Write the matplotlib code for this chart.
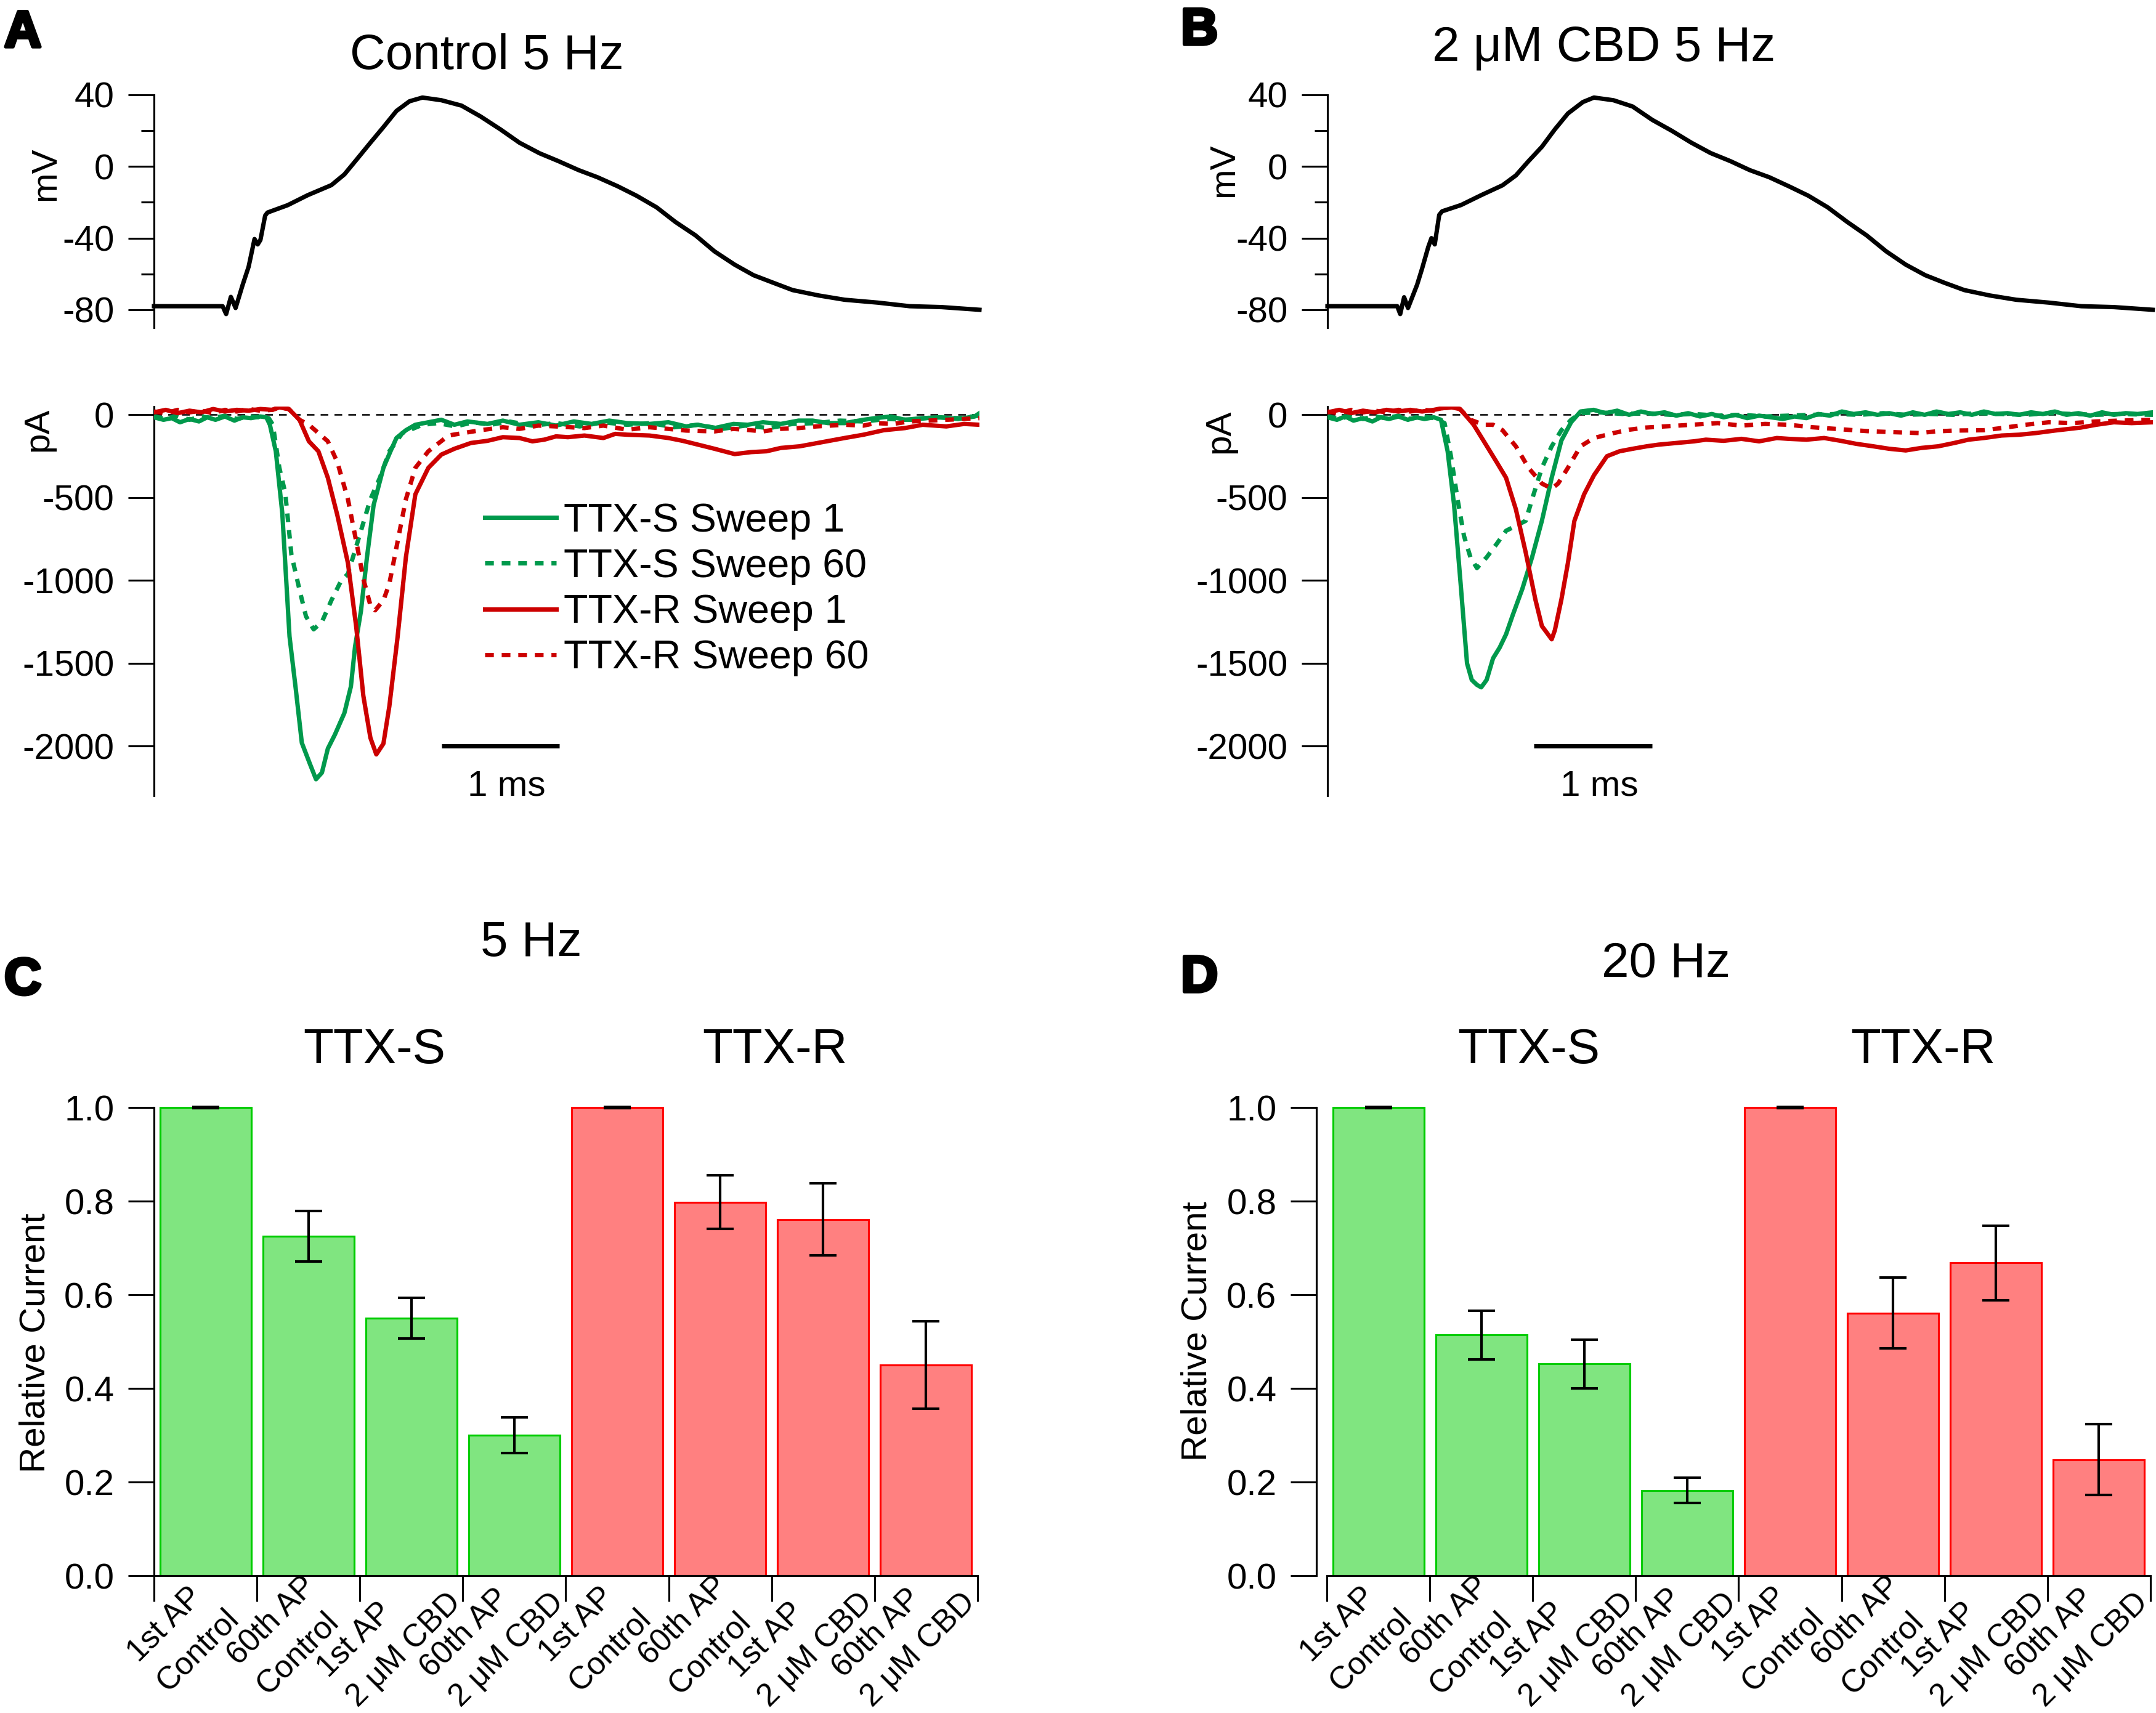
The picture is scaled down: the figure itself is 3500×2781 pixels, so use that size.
import matplotlib
matplotlib.use("Agg")
import matplotlib.pyplot as plt
import matplotlib.patheffects as pe
from matplotlib.transforms import ScaledTranslation

plt.rcParams['font.family'] = ['Liberation Sans', 'DejaVu Sans']
plt.rcParams['axes.unicode_minus'] = False
plt.rcParams['axes.linewidth'] = 0.75

# ---------------- data ----------------
# membrane voltage traces (time ms, mV)
A_V = [(0, -78), (0.30, -78), (0.58, -78), (0.61, -82.4), (0.65, -72.8), (0.69, -79), (0.75, -66),
       (0.80, -56), (0.85, -40.5), (0.877, -43.5), (0.90, -41), (0.94, -27.4), (0.96, -25.7),
       (1.13, -21.6), (1.30, -16), (1.50, -10.4), (1.61, -4.4), (1.72, 4.4), (1.83, 13.3), (1.94, 22),
       (2.05, 31), (2.16, 36.4), (2.27, 38.5), (2.43, 37), (2.60, 34), (2.76, 28), (2.93, 20.7),
       (3.09, 13.3), (3.26, 7.4), (3.42, 3), (3.59, -2), (3.75, -6), (3.92, -11), (4.08, -16.3),
       (4.25, -22.8), (4.41, -31), (4.58, -38.5), (4.74, -47.4), (4.91, -54.8), (5.07, -60.7),
       (5.24, -65), (5.40, -69), (5.62, -72), (5.84, -74.4), (6.12, -76), (6.39, -78), (6.66, -78.5),
       (6.98, -80)]
B_V = [(0, -78), (0.30, -78), (0.59, -78), (0.615, -82.4), (0.648, -73), (0.681, -79), (0.758, -66),
       (0.80, -57), (0.852, -45), (0.879, -40), (0.907, -43.5), (0.945, -27), (0.97, -25),
       (1.13, -21.5), (1.30, -16), (1.48, -10.5), (1.593, -5), (1.70, 3), (1.813, 11), (1.92, 20.5),
       (2.033, 29.6), (2.16, 36), (2.253, 38.5), (2.418, 37), (2.58, 33.5), (2.747, 26), (2.91, 20),
       (3.077, 13.3), (3.24, 7.5), (3.407, 3), (3.57, -2), (3.736, -6), (3.90, -11), (4.066, -16.3),
       (4.23, -22.8), (4.396, -31), (4.56, -38.5), (4.725, -47.4), (4.89, -54.8), (5.055, -60.7),
       (5.22, -65), (5.385, -69), (5.60, -72), (5.824, -74.4), (6.10, -76), (6.374, -78), (6.65, -78.5),
       (6.978, -80)]

# sodium current traces (time ms, pA)
A_S1 = [(0, -15), (0.08, -30), (0.15, -20), (0.22, -45), (0.30, -25), (0.38, -40), (0.45, -15), (0.52, -30),
        (0.60, -10), (0.68, -35), (0.75, -15), (0.82, -20), (0.90, -10), (0.95, -15), (0.98, -60),
        (1.03, -220), (1.085, -595), (1.146, -1338), (1.198, -1650), (1.25, -1980), (1.32, -2110),
        (1.37, -2200), (1.42, -2160), (1.47, -2015), (1.53, -1930), (1.61, -1800), (1.665, -1640),
        (1.70, -1400), (1.75, -1185), (1.80, -865), (1.857, -545), (1.94, -320), (2.00, -220),
        (2.05, -140), (2.13, -93), (2.21, -60), (2.32, -45), (2.43, -30), (2.54, -60), (2.65, -40),
        (2.82, -55), (2.95, -35), (3.09, -60), (3.25, -45), (3.40, -65), (3.55, -40), (3.70, -55),
        (3.85, -35), (4.00, -50), (4.19, -55), (4.35, -45), (4.50, -70), (4.60, -60), (4.74, -80),
        (4.90, -55), (5.02, -60), (5.15, -45), (5.30, -55), (5.45, -35), (5.57, -35), (5.70, -50),
        (5.84, -50), (6.00, -30), (6.10, -20), (6.23, -10), (6.35, -30), (6.50, -20), (6.65, -15),
        (6.80, -25), (6.94, -10), (6.98, 10)]
A_S60 = [(0, -10), (0.1, -25), (0.2, -5), (0.3, -30), (0.4, -10), (0.5, -20), (0.6, -5), (0.7, -25),
         (0.8, -10), (0.9, -15), (0.97, -20), (1.005, -60), (1.06, -320), (1.11, -472), (1.162, -844),
         (1.23, -1055), (1.285, -1216), (1.35, -1295), (1.42, -1250), (1.50, -1120), (1.58, -1005),
         (1.64, -960), (1.75, -700), (1.83, -510), (1.91, -380), (1.99, -220), (2.10, -110), (2.27, -60),
         (2.40, -50), (2.55, -70), (2.70, -45), (2.85, -60), (3.00, -40), (3.20, -65), (3.40, -50),
         (3.60, -70), (3.80, -45), (4.00, -60), (4.20, -50), (4.40, -75), (4.60, -60), (4.80, -85),
         (5.00, -65), (5.20, -80), (5.40, -55), (5.60, -50), (5.80, -35), (6.00, -40), (6.20, -25),
         (6.40, -30), (6.60, -15), (6.80, -20), (6.98, -5)]
A_R1 = [(0, 15), (0.1, 30), (0.2, 10), (0.3, 25), (0.4, 15), (0.5, 35), (0.6, 20), (0.7, 30), (0.8, 25),
        (0.9, 35), (1.0, 30), (1.06, 45), (1.14, 35), (1.23, -30), (1.31, -160), (1.39, -220),
        (1.47, -380), (1.55, -605), (1.64, -895), (1.71, -1280), (1.77, -1695), (1.83, -1950),
        (1.88, -2050), (1.94, -1985), (1.99, -1760), (2.06, -1340), (2.13, -860), (2.21, -480),
        (2.32, -320), (2.43, -240), (2.54, -205), (2.68, -170), (2.82, -157), (2.95, -135), (3.09, -140),
        (3.20, -160), (3.30, -150), (3.40, -130), (3.50, -135), (3.64, -125), (3.80, -140), (3.90, -115),
        (4.00, -120), (4.19, -125), (4.35, -140), (4.47, -157), (4.60, -180), (4.74, -205), (4.91, -237),
        (5.05, -225), (5.18, -220), (5.30, -200), (5.46, -190), (5.65, -165), (5.84, -140), (6.00, -120),
        (6.17, -93), (6.35, -80), (6.50, -60), (6.70, -70), (6.85, -55), (6.98, -60)]
A_R60 = [(0, 20), (0.1, 10), (0.2, 30), (0.3, 15), (0.4, 25), (0.5, 10), (0.6, 30), (0.7, 20), (0.8, 35),
         (0.9, 25), (1.0, 30), (1.06, 45), (1.14, 35), (1.23, -30), (1.31, -60), (1.39, -110),
         (1.47, -160), (1.55, -285), (1.64, -510), (1.72, -800), (1.77, -990), (1.83, -1150),
         (1.87, -1180), (1.94, -1120), (1.99, -1020), (2.06, -765), (2.13, -510), (2.21, -320),
         (2.32, -220), (2.49, -125), (2.76, -93), (2.95, -75), (3.09, -85), (3.25, -65), (3.40, -70),
         (3.64, -80), (3.80, -65), (4.00, -90), (4.19, -75), (4.35, -85), (4.50, -95), (4.74, -100),
         (4.90, -85), (5.00, -90), (5.15, -100), (5.29, -85), (5.45, -80), (5.60, -70), (5.84, -60),
         (6.00, -65), (6.10, -50), (6.25, -55), (6.39, -40), (6.55, -35), (6.70, -30), (6.85, -25),
         (6.98, -20)]
B_S1 = [(0, -15), (0.08, -30), (0.15, -10), (0.22, -35), (0.30, -20), (0.38, -40), (0.45, -15), (0.52, -25),
        (0.60, -10), (0.68, -30), (0.75, -15), (0.82, -25), (0.90, -15), (0.96, -30), (1.016, -220),
        (1.07, -540), (1.126, -1020), (1.18, -1500), (1.22, -1600), (1.264, -1630), (1.30, -1645),
        (1.346, -1600), (1.40, -1470), (1.456, -1405), (1.51, -1325), (1.566, -1210), (1.648, -1050),
        (1.73, -860), (1.813, -640), (1.896, -380), (1.978, -155), (2.06, -45), (2.14, 20), (2.25, 30),
        (2.35, 10), (2.45, 25), (2.55, 0), (2.65, 20), (2.75, 5), (2.85, 15), (2.95, -5), (3.05, 10),
        (3.15, -10), (3.25, 5), (3.35, -15), (3.45, 0), (3.55, -20), (3.65, -5), (3.75, -15), (3.85, -25),
        (3.95, -10), (4.05, -20), (4.15, 5), (4.25, -5), (4.35, 20), (4.45, 5), (4.55, 15), (4.65, 0),
        (4.75, 10), (4.85, -5), (4.95, 15), (5.05, 0), (5.15, 20), (5.25, 5), (5.35, 15), (5.45, 0),
        (5.55, 20), (5.65, 5), (5.75, 10), (5.85, 0), (5.95, 15), (6.05, 5), (6.15, 20), (6.25, 0),
        (6.35, 10), (6.45, -5), (6.55, 15), (6.65, 0), (6.75, 10), (6.85, 5), (6.98, 15)]
B_S60 = [(0, -10), (0.1, -25), (0.2, -5), (0.3, -25), (0.4, -10), (0.5, -20), (0.6, -5), (0.7, -25),
         (0.8, -10), (0.9, -20), (0.99, -50), (1.044, -250), (1.10, -510), (1.154, -730), (1.209, -860),
         (1.264, -925), (1.346, -860), (1.43, -780), (1.51, -700), (1.593, -670), (1.676, -640),
         (1.73, -510), (1.813, -320), (1.896, -190), (1.978, -93), (2.06, -30), (2.14, 10), (2.3, 15),
         (2.5, 5), (2.7, 10), (2.9, 0), (3.1, 5), (3.3, -5), (3.5, 0), (3.7, -10), (3.9, -5), (4.1, 0),
         (4.3, 5), (4.5, 0), (4.7, 10), (4.9, 0), (5.1, 5), (5.3, 0), (5.5, 10), (5.7, 5), (5.9, 0),
         (6.1, 10), (6.3, 5), (6.5, 0), (6.7, 5), (6.98, 0)]
B_R1 = [(0, 15), (0.1, 30), (0.2, 10), (0.3, 25), (0.4, 15), (0.5, 30), (0.6, 20), (0.7, 30), (0.8, 20),
        (0.9, 30), (0.97, 40), (1.05, 45), (1.12, 35), (1.18, -13), (1.236, -60), (1.32, -157),
        (1.43, -285), (1.51, -380), (1.593, -570), (1.676, -830), (1.758, -1115), (1.813, -1275),
        (1.87, -1330), (1.896, -1355), (1.923, -1300), (1.978, -1115), (2.033, -895), (2.088, -640),
        (2.17, -480), (2.253, -365), (2.363, -250), (2.47, -220), (2.58, -205), (2.70, -190), (2.80, -180),
        (2.95, -170), (3.10, -160), (3.20, -150), (3.35, -157), (3.50, -145), (3.65, -160), (3.80, -140),
        (3.90, -145), (4.05, -150), (4.20, -140), (4.34, -157), (4.47, -175), (4.615, -190), (4.75, -205),
        (4.89, -215), (5.02, -200), (5.165, -190), (5.30, -170), (5.42, -150), (5.55, -140), (5.70, -125),
        (5.85, -120), (5.99, -110), (6.15, -95), (6.37, -77), (6.50, -60), (6.65, -45), (6.80, -50),
        (6.98, -45)]
B_R60 = [(0, 20), (0.1, 10), (0.2, 30), (0.3, 15), (0.4, 25), (0.5, 15), (0.6, 30), (0.7, 20), (0.8, 30),
         (0.9, 25), (0.97, 40), (1.05, 45), (1.12, 35), (1.21, -30), (1.32, -60), (1.40, -60), (1.48, -93),
         (1.593, -190), (1.70, -320), (1.813, -415), (1.896, -445), (1.95, -415), (2.033, -320),
         (2.14, -190), (2.253, -140), (2.42, -110), (2.55, -90), (2.69, -77), (2.85, -70), (3.08, -60),
         (3.30, -50), (3.50, -65), (3.70, -55), (3.90, -60), (4.10, -75), (4.30, -85), (4.45, -93),
         (4.60, -100), (4.80, -105), (5.00, -110), (5.15, -100), (5.30, -95), (5.55, -93), (5.70, -80),
         (5.90, -60), (6.10, -45), (6.30, -50), (6.50, -40), (6.70, -35), (6.98, -30)]

trace_labels = ["TTX-S Sweep 1", "TTX-S Sweep 60", "TTX-R Sweep 1", "TTX-R Sweep 60"]

# bar charts: relative current
bar_labels = ["1st AP\nControl", "60th AP\nControl", "1st AP\n2 \u03bcM CBD", "60th AP\n2 \u03bcM CBD"]
C_ttxs = [1.0, 0.725, 0.550, 0.300]
C_ttxs_err = [0.001, 0.054, 0.044, 0.038]
C_ttxr = [1.0, 0.798, 0.761, 0.450]
C_ttxr_err = [0.001, 0.057, 0.077, 0.094]
D_ttxs = [1.0, 0.514, 0.452, 0.182]
D_ttxs_err = [0.001, 0.052, 0.052, 0.027]
D_ttxr = [1.0, 0.561, 0.668, 0.248]
D_ttxr_err = [0.001, 0.076, 0.080, 0.076]

# ---------------- styling ----------------
W, H, DPI = 3500, 2781, 300
GREEN = '#00994C'
RED = '#CC0000'
BAR_G_FILL, BAR_G_EDGE = '#80E580', '#00CC00'
BAR_R_FILL, BAR_R_EDGE = '#FF8080', '#FF0000'
TICK_FS = 14
TITLE_FS = 19.2
LW = 1.7
DASH = (0, (2.0, 1.8))

fig = plt.figure(figsize=(W / DPI, H / DPI), dpi=DPI)


def add_ax(left, top, right, bottom):
    return fig.add_axes([left / W, 1 - bottom / H, (right - left) / W, (bottom - top) / H])


def ftext(x, y, s, **kw):
    return fig.text(x / W, 1 - y / H, s, **kw)


def style_left_only(ax):
    for sp in ('top', 'right', 'bottom'):
        ax.spines[sp].set_visible(False)
    ax.tick_params(axis='x', which='both', bottom=False, labelbottom=False)
    ax.tick_params(axis='y', which='major', length=10, width=0.75, pad=5.5, labelsize=TICK_FS)
    ax.tick_params(axis='y', which='minor', length=5, width=0.75)
    ax.patch.set_visible(False)


def unzip(pairs):
    return [p[0] for p in pairs], [p[1] for p in pairs]


def trace_panel(x0, vtrace, s1, s60, r1, r60, bar_start, legend=False):
    x1 = x0 + 1340
    axv = add_ax(x0, 154, x1, 532)
    style_left_only(axv)
    axv.set_xlim(0, 6.98)
    axv.set_ylim(-90, 40)
    axv.set_yticks([40, 0, -40, -80])
    axv.set_yticks([20, -20, -60], minor=True)
    t, v = unzip(vtrace)
    axv.plot(t, v, color='black', lw=LW, clip_on=False, solid_joinstyle='round')

    axi = add_ax(x0, 660, x1, 1292)
    style_left_only(axi)
    axi.set_xlim(0, 6.98)
    axi.set_ylim(-2300, 50)
    axi.set_yticks([0, -500, -1000, -1500, -2000])
    axi.axhline(0, color='black', lw=0.6, ls=(0, (5, 4)), zorder=1)
    handles = []
    for pairs, col, ls in ((s1, GREEN, '-'), (s60, GREEN, DASH), (r1, RED, '-'), (r60, RED, DASH)):
        t, i = unzip(pairs)
        ln, = axi.plot(t, i, color=col, lw=LW, ls=ls, zorder=3, solid_joinstyle='round')
        handles.append(ln)
    # scale bar 1 ms
    axi.plot([bar_start, bar_start + 1.0], [-2000, -2000], color='black', lw=1.7,
             solid_capstyle='butt', clip_on=False)
    axi.text(bar_start + 0.55, -2300, '1 ms', ha='center', va='baseline', fontsize=TICK_FS)
    if legend:
        axi.legend(handles, trace_labels, loc='center left', bbox_to_anchor=(0.4007, 0.530),
                   frameon=False, fontsize=15.5, handlelength=1.8, handletextpad=0.18,
                   labelspacing=0.22, borderpad=0, borderaxespad=0)
    return axv, axi


trace_panel(250, A_V, A_S1, A_S60, A_R1, A_R60, 2.43, legend=True)
trace_panel(2155, B_V, B_S1, B_S60, B_R1, B_R60, 1.747)


def bar_panel(left_spine, x_start, s_vals, s_err, r_vals, r_err):
    slot = 167.1
    x_end = x_start + 8 * slot
    pad_units = (x_start - left_spine) / slot
    ax = add_ax(left_spine, 1798 - 0.02 * 760, x_end, 2558)
    ax.set_xlim(-pad_units, 8)
    ax.set_ylim(0, 1.02)
    for sp in ('top', 'right'):
        ax.spines[sp].set_visible(False)
    ax.spines['left'].set_bounds(0, 1.0)
    ax.spines['bottom'].set_bounds(0, 8)
    centers = [k + 0.5 for k in range(8)]
    ekw = dict(ecolor='black', elinewidth=1.0, capthick=1.0)
    ax.bar(centers[:4], s_vals, width=0.886, color=BAR_G_FILL, edgecolor=BAR_G_EDGE,
           linewidth=0.75, yerr=s_err, capsize=5.3, error_kw=ekw, zorder=2)
    ax.bar(centers[4:], r_vals, width=0.886, color=BAR_R_FILL, edgecolor=BAR_R_EDGE,
           linewidth=0.75, yerr=r_err, capsize=5.3, error_kw=ekw, zorder=2)
    ax.set_yticks([0.0, 0.2, 0.4, 0.6, 0.8, 1.0])
    ax.set_yticklabels(['0.0', '0.2', '0.4', '0.6', '0.8', '1.0'])
    ax.tick_params(axis='y', length=10, width=0.75, pad=5.5, labelsize=TICK_FS)
    # category boundaries as downward ticks, labels placed below each bar
    ax.set_xticks(list(range(9)))
    ax.set_xticklabels([])
    ax.tick_params(axis='x', which='major', length=10, width=0.75, direction='out')
    trans = ax.get_xaxis_transform() + ScaledTranslation(-36 / DPI, -97 / DPI, fig.dpi_scale_trans)
    for c, lab in zip(centers, bar_labels * 2):
        ax.text(c, 0, lab, transform=trans, rotation=45, ha='center', va='center',
                rotation_mode='anchor', multialignment='left', fontsize=12.4, linespacing=1.5)
    ax.patch.set_visible(False)
    return ax


bar_panel(250, 250, C_ttxs, C_ttxs_err, C_ttxr, C_ttxr_err)
bar_panel(2137, 2154, D_ttxs, D_ttxs_err, D_ttxr, D_ttxr_err)

# ---------------- text ----------------
LET = dict(fontsize=20, fontweight='bold', ha='left', va='baseline',
           path_effects=[pe.withStroke(linewidth=1.3, foreground='black')])
ftext(7, 76, 'A', **LET)
ftext(1917, 72, 'B', **LET)
ftext(7, 1614, 'C', **LET)
ftext(1917, 1610, 'D', **LET)

ftext(790, 112, 'Control 5 Hz', fontsize=TITLE_FS, ha='center', va='baseline')
ftext(2604, 98, '2 \u03bcM CBD 5 Hz', fontsize=TITLE_FS, ha='center', va='baseline')
ftext(862, 1552, '5 Hz', fontsize=TITLE_FS, ha='center', va='baseline')
ftext(2705, 1586, '20 Hz', fontsize=TITLE_FS, ha='center', va='baseline')
ftext(608, 1726, 'TTX-S', fontsize=TITLE_FS, ha='center', va='baseline')
ftext(1258, 1726, 'TTX-R', fontsize=TITLE_FS, ha='center', va='baseline')
ftext(2482, 1726, 'TTX-S', fontsize=TITLE_FS, ha='center', va='baseline')
ftext(3122, 1726, 'TTX-R', fontsize=TITLE_FS, ha='center', va='baseline')

YL = dict(fontsize=TICK_FS, rotation=90, ha='center', va='center')
ftext(74, 282, 'mV', **YL)
ftext(62, 697, 'pA', **YL)
ftext(1987, 276, 'mV', **YL)
ftext(1980, 700, 'pA', **YL)
ftext(58, 2180, 'Relative Current', **YL)
ftext(1944, 2161, 'Relative Current', **YL)

fig.savefig('out.png', dpi=DPI)
